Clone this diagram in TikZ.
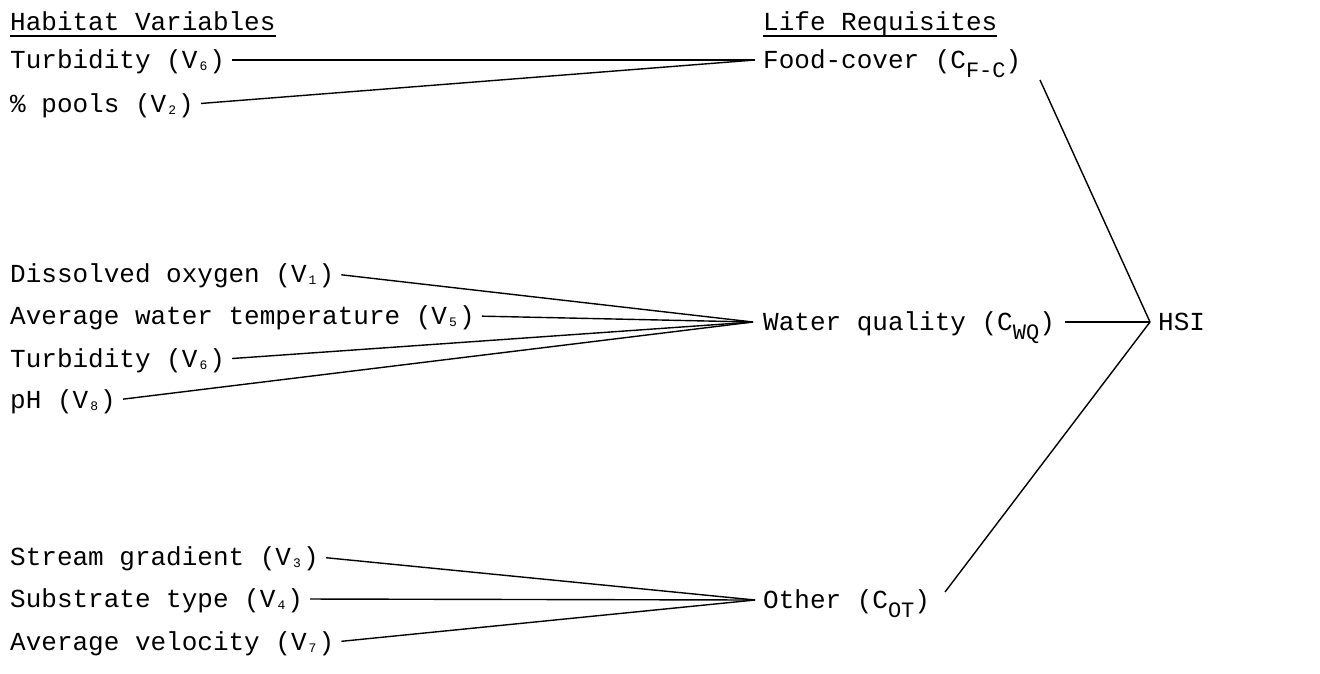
\documentclass[tikz,border=0pt]{standalone}
\usepackage{fontspec}
\newfontfamily\labelfont{Liberation Mono}
% subscript digits of the habitat variables
\newcommand\vsub[1]{\hbox to 12pt{\hss\raisebox{-2pt}{\fontsize{13}{13}\selectfont#1}\hss}}
% subscripts of the life requisites
\newcommand\csub[1]{\raisebox{-9pt}{\fontsize{22}{22}\selectfont#1}}
\tikzset{
  lbl/.style={anchor=west, inner xsep=0pt, inner ysep=0pt,
    text height=16pt, text depth=0pt,
    font=\labelfont\fontsize{26}{30}\selectfont},
  head/.style={anchor=base west, inner sep=0pt,
    font=\labelfont\fontsize{26}{30}\selectfont},
  link/.style={line width=1.4pt, line join=miter},
}
\begin{document}
\begin{tikzpicture}[x=1pt,y=-1pt]
\useasboundingbox (0,0) rectangle (1320,673);

% column headings
\node[head] (hv) at (10,30) {Habitat Variables};
\node[head] (lr) at (763,30) {Life Requisites};
\draw[line width=1.1pt] ([yshift=-6pt]hv.base west) -- ([yshift=-6pt]hv.base east);
\draw[line width=1.1pt] ([yshift=-6pt]lr.base west) -- ([yshift=-6pt]lr.base east);

% habitat variables
\node[lbl] (turbA) at (10,60)  {Turbidity (V\vsub{6})};
\node[lbl] (pools) at (10,104) {\% pools (V\vsub{2})};
\node[lbl] (dox)   at (10,274) {Dissolved oxygen (V\vsub{1})};
\node[lbl] (awt)   at (10,316) {Average water temperature (V\vsub{5})};
\node[lbl] (turbB) at (10,359) {Turbidity (V\vsub{6})};
\node[lbl] (ph)    at (10,400) {pH (V\vsub{8})};
\node[lbl] (sg)    at (10,557) {Stream gradient (V\vsub{3})};
\node[lbl] (sub)   at (10,599) {Substrate type (V\vsub{4})};
\node[lbl] (avel)  at (10,642) {Average velocity (V\vsub{7})};

% life requisites
\node[lbl] (fc) at (763,60)  {Food-cover (C\csub{F-C})};
\node[lbl] (wq) at (763,322) {Water quality (C\csub{WQ})};
\node[lbl] (ot) at (763,600) {Other (C\csub{OT})};

% converging points
\coordinate (fcin) at (755,60);
\coordinate (wqin) at (753,322);
\coordinate (otin) at (755,600);

% index
\coordinate (hsiin) at (1150,322);
\node[lbl] (hsi) at (1158,322) {HSI};
\coordinate (fcout) at (1040,80);
\coordinate (otout) at (945,592);

\begin{scope}[link]
\draw[shorten <=7pt] (turbA.east) -- (fcin);
\draw[shorten <=7pt] (pools.east) -- (fcin);
\draw[shorten <=7pt] (dox.east)   -- (wqin);
\draw[shorten <=7pt] (awt.east)   -- (wqin);
\draw[shorten <=7pt] (turbB.east) -- (wqin);
\draw[shorten <=7pt] (ph.east)    -- (wqin);
\draw[shorten <=7pt] (sg.east)    -- (otin);
\draw[shorten <=7pt] (sub.east)   -- (otin);
\draw[shorten <=7pt] (avel.east)  -- (otin);
\draw (fcout) -- (hsiin);
\draw[shorten <=10pt] (wq.east) -- (hsiin);
\draw (otout) -- (hsiin);
\end{scope}
\end{tikzpicture}
\end{document}
